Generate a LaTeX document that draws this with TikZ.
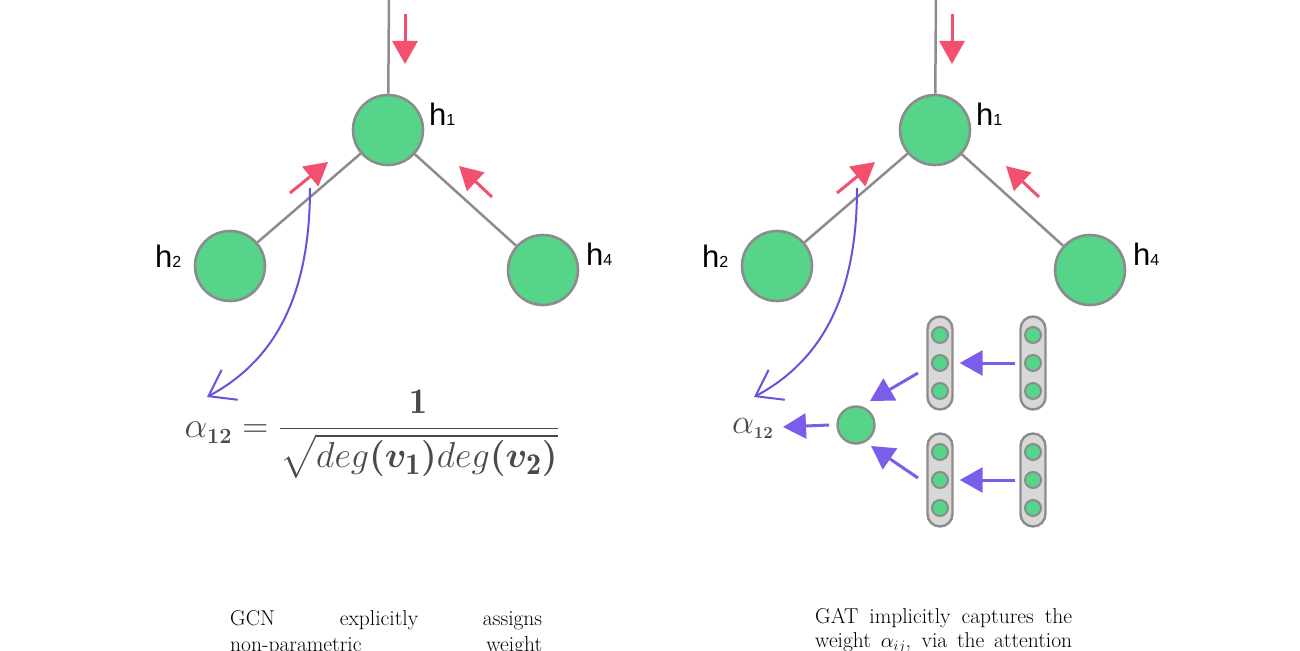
\documentclass[tikz,border=0pt]{standalone}
\usepackage{graphicx}
\usepackage{amsmath,bm}
\usepackage{fontspec}
\newfontfamily\hfont{Liberation Sans}
\usetikzlibrary{arrows.meta}
\definecolor{nodegreen}{HTML}{55D48A}
\definecolor{edgegray}{HTML}{8C8C8C}
\definecolor{redarr}{HTML}{F2506E}
\definecolor{purp}{HTML}{7B5CEB}
\definecolor{purpline}{HTML}{6A50DC}
\definecolor{pillgray}{HTML}{D8D8D8}
\definecolor{formgray}{HTML}{4A4A4A}
\newcommand{\hsub}[2]{#1{\fontsize{16}{16}\selectfont #2}}
\tikzset{
  bignode/.style={circle, fill=nodegreen, draw=edgegray, line width=2.6pt, minimum size=70pt, inner sep=0pt},
  graphedge/.style={draw=edgegray, line width=2.5pt},
  redarrow/.style={draw=redarr, fill=redarr, line width=3pt, -{Triangle[length=23pt,width=25pt]}},
  attcurve/.style={draw=purpline, line width=2pt, -{Straight Barb[length=24pt,width=34pt]}},
  purparrow/.style={draw=purp, fill=purp, line width=3pt, -{Triangle[length=23pt,width=25pt]}},
  pill/.style={rectangle, rounded corners=12.5pt, fill=pillgray, draw=edgegray, line width=2.4pt, minimum width=25pt, minimum height=93pt, inner sep=0pt},
  dot/.style={circle, fill=nodegreen, draw=edgegray, line width=2pt, minimum size=16pt, inner sep=0pt},
  smallnode/.style={circle, fill=nodegreen, draw=edgegray, line width=2.4pt, minimum size=37pt, inner sep=0pt},
  hlabel/.style={anchor=base west, inner sep=0pt, font=\hfont\fontsize{31}{31}\selectfont},
  caption/.style={anchor=base west, inner sep=0pt, font=\fontsize{21.5}{24}\selectfont},
}
\begin{document}
\begin{tikzpicture}[x=1pt,y=-1pt]
\path[use as bounding box] (0,0) rectangle (1300,650);
\clip (0,0) rectangle (1300,650);

% ---------------- left panel (GCN) ----------------
\node[bignode] (l1) at (388,130) {};
\node[bignode] (l2) at (230,266) {};
\node[bignode] (l4) at (543,270) {};
\coordinate (ltop) at (389,-5);
\draw[graphedge] (ltop) -- (l1);
\draw[graphedge] (l1) -- (l2);
\draw[graphedge] (l1) -- (l4);
\coordinate (lda) at (405,14);
\coordinate (ldb) at (405,64);
\draw[redarrow] (lda) -- (ldb);
\coordinate (lla) at (290,193);
\coordinate (llb) at (328,162);
\draw[redarrow] (lla) -- (llb);
\coordinate (lra) at (492,197);
\coordinate (lrb) at (459,166);
\draw[redarrow] (lra) -- (lrb);
\node[hlabel] (lh1) at (429,125) {\hsub{h}{1}};
\node[hlabel] (lh2) at (155,267) {\hsub{h}{2}};
\node[hlabel] (lh4) at (586,265) {\hsub{h}{4}};
\coordinate (lcs) at (310,188);
\coordinate (lce) at (207,397);
\draw[attcurve] (lcs) .. controls (310,300) and (272,362) .. (lce);
\node[inner sep=0pt, text=formgray] (lform) at (372,434)
  {\scalebox{1.45}{\Huge$\alpha_{\text{\fontsize{15}{15}\selectfont\bfseries 12}} = \dfrac{\mathbf{1}}{\sqrt{deg\bm{(}\bm{v}_{\mathbf{1}}\bm{)}deg\bm{(}\bm{v}_{\mathbf{2}}\bm{)}}}$}};

% ---------------- right panel (GAT) ----------------
\node[bignode] (r1) at (935,130) {};
\node[bignode] (r2) at (777,266) {};
\node[bignode] (r4) at (1090,270) {};
\coordinate (rtop) at (936,-5);
\draw[graphedge] (rtop) -- (r1);
\draw[graphedge] (r1) -- (r2);
\draw[graphedge] (r1) -- (r4);
\coordinate (rda) at (952,14);
\coordinate (rdb) at (952,64);
\draw[redarrow] (rda) -- (rdb);
\coordinate (rla) at (837,193);
\coordinate (rlb) at (875,162);
\draw[redarrow] (rla) -- (rlb);
\coordinate (rra) at (1039,197);
\coordinate (rrb) at (1006,166);
\draw[redarrow] (rra) -- (rrb);
\node[hlabel] (rh1) at (976,125) {\hsub{h}{1}};
\node[hlabel] (rh2) at (702,267) {\hsub{h}{2}};
\node[hlabel] (rh4) at (1133,265) {\hsub{h}{4}};
\coordinate (rcs) at (857,188);
\coordinate (rce) at (754,397);
\draw[attcurve] (rcs) .. controls (857,300) and (819,362) .. (rce);

\node[anchor=base west, inner sep=0pt, text=formgray] (ra) at (732,433) {\scalebox{1.4}{\Huge$\alpha_{\text{\fontsize{12}{12}\selectfont\bfseries 12}}$}};
\node[smallnode] (sc) at (856,425) {};

\node[pill] (p1) at (940,363) {};
\node[pill] (p2) at (1033,363) {};
\node[pill] (p3) at (940,480) {};
\node[pill] (p4) at (1033,480) {};
\foreach \p in {p1,p2,p3,p4}{
  \node[dot] (\p a) at ([yshift=-28pt]\p.center) {};
  \node[dot] (\p b) at (\p.center) {};
  \node[dot] (\p c) at ([yshift=28pt]\p.center) {};
}
\draw[purparrow] ([xshift=-4pt]p2.west) -- ([xshift=6pt]p1.east);
\draw[purparrow] ([xshift=-4pt]p4.west) -- ([xshift=6pt]p3.east);
\coordinate (u1s) at (918,373);
\coordinate (u1e) at (870,401);
\draw[purparrow] (u1s) -- (u1e);
\coordinate (d1s) at (918,478);
\coordinate (d1e) at (871,446);
\draw[purparrow] (d1s) -- (d1e);
\coordinate (as) at (829,425);
\coordinate (ae) at (783,427);
\draw[purparrow] (as) -- (ae);

% ---------------- captions ----------------
\node[caption] (cl1) at (230,625) {\makebox[312pt][s]{GCN explicitly assigns}};
\node[caption] (cl2) at (230,651) {\makebox[312pt][s]{non-parametric weight}};
\node[caption] (cr1) at (815,623) {\makebox[257pt][s]{GAT implicitly captures the}};
\node[caption] (cr2) at (815,647) {\makebox[257pt][s]{weight $\alpha_{ij}$, via the attention}};
\end{tikzpicture}
\end{document}
